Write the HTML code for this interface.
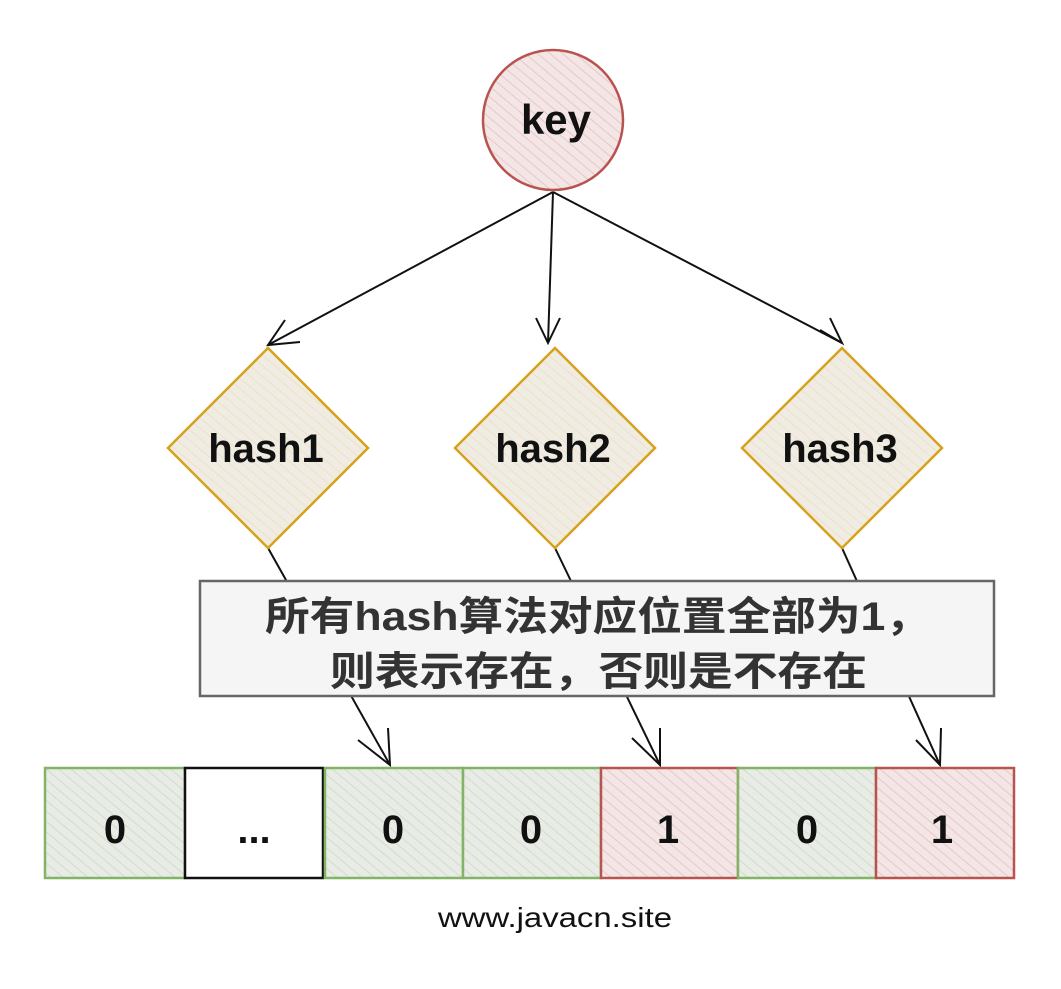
<!DOCTYPE html>
<html><head><meta charset="utf-8"><style>
html,body{margin:0;padding:0;background:#fff}
svg{display:block}
</style></head><body>
<svg width="1061" height="989" viewBox="0 0 1061 989" xmlns="http://www.w3.org/2000/svg">
<defs>
<pattern id="hg" width="8" height="8" patternUnits="userSpaceOnUse" patternTransform="rotate(-50)"><rect width="8" height="8" fill="#e8ebe6"/><line x1="0" y1="0" x2="0" y2="8" stroke="#cfe0c6" stroke-width="2"/></pattern>
<pattern id="hr" width="8" height="8" patternUnits="userSpaceOnUse" patternTransform="rotate(-50)"><rect width="8" height="8" fill="#f3e6e6"/><line x1="0" y1="0" x2="0" y2="8" stroke="#f0c4c4" stroke-width="2"/></pattern>
<pattern id="hy" width="8" height="8" patternUnits="userSpaceOnUse" patternTransform="rotate(-50)"><rect width="8" height="8" fill="#efece4"/><line x1="0" y1="0" x2="0" y2="8" stroke="#f3dfc4" stroke-width="2"/></pattern>
</defs>
<g stroke="#111" stroke-width="2" fill="none">
<line x1="553" y1="192" x2="268" y2="345"/>
<line x1="553" y1="192" x2="548" y2="343"/>
<line x1="553" y1="192" x2="842" y2="343"/>
<polyline points="285,320 268,345 300,342"/>
<polyline points="536,318 548,343 560,318"/>
<polyline points="820,330 842,343 830,318"/>
<line x1="268" y1="548" x2="390" y2="765"/>
<line x1="555" y1="548" x2="660" y2="765"/>
<line x1="842" y1="548" x2="940" y2="765"/>
<polyline points="358,740 390,765 388,728"/>
<polyline points="632,738 660,765 660,728"/>
<polyline points="916,740 940,765 941,728"/>
</g>
<circle cx="553" cy="120" r="70" fill="url(#hr)" stroke="#b85450" stroke-width="2.5"/>
<text x="556" y="134" font-family="Liberation Sans, sans-serif" font-weight="bold" font-size="42" text-anchor="middle" fill="#111">key</text>
<g stroke="#d6a21c" stroke-width="2.5" fill="url(#hy)">
<polygon points="268,348 368,448 268,548 168,448"/>
<polygon points="555,348 655,448 555,548 455,448"/>
<polygon points="842,348 942,448 842,548 742,448"/>
</g>
<g font-family="Liberation Sans, sans-serif" font-weight="bold" font-size="40" text-anchor="middle" fill="#111">
<text x="266" y="462">hash1</text>
<text x="553" y="462">hash2</text>
<text x="840" y="462">hash3</text>
</g>
<rect x="200" y="581" width="794" height="115" fill="#f5f5f5" stroke="#666" stroke-width="2.5"/>
<g font-family="Liberation Sans, 'Noto Sans CJK SC', sans-serif" font-weight="bold" font-size="40" fill="#333">
<text x="265" y="630" textLength="665" lengthAdjust="spacingAndGlyphs">所有hash算法对应位置全部为1，</text>
<text x="330" y="685" textLength="537" lengthAdjust="spacingAndGlyphs">则表示存在，否则是不存在</text>
</g>
<g stroke-width="2.5">
<rect x="45" y="768" width="140" height="110" fill="url(#hg)" stroke="#82b366"/>
<rect x="185" y="768" width="138" height="110" fill="#fff" stroke="#111"/>
<rect x="325" y="768" width="138" height="110" fill="url(#hg)" stroke="#82b366"/>
<rect x="463" y="768" width="138" height="110" fill="url(#hg)" stroke="#82b366"/>
<rect x="601" y="768" width="137" height="110" fill="url(#hr)" stroke="#b85450"/>
<rect x="738" y="768" width="138" height="110" fill="url(#hg)" stroke="#82b366"/>
<rect x="876" y="768" width="138" height="110" fill="url(#hr)" stroke="#b85450"/>
</g>
<g font-family="Liberation Sans, sans-serif" font-weight="bold" font-size="40" text-anchor="middle" fill="#111">
<text x="115" y="843">0</text>
<text x="254" y="843">...</text>
<text x="393" y="843">0</text>
<text x="531" y="843">0</text>
<text x="668" y="843">1</text>
<text x="807" y="843">0</text>
<text x="942" y="843">1</text>
</g>
<text x="438" y="927" font-family="Liberation Sans, sans-serif" font-size="28" textLength="234" lengthAdjust="spacingAndGlyphs" fill="#111">www.javacn.site</text>
</svg>
</body></html>
